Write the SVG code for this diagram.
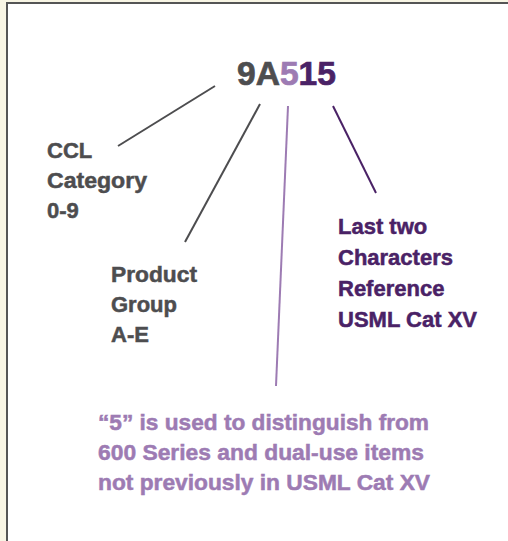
<svg xmlns="http://www.w3.org/2000/svg" width="508" height="541" viewBox="0 0 508 541">
<style>
text{font-family:"Liberation Sans",Arial,sans-serif;font-weight:bold;font-size:22px;stroke-width:0.5}
text.big{font-size:33px;stroke-width:0.7}
.g{fill:#4d4d4f;stroke:#4d4d4f}
.lp{fill:#9d7bb3;stroke:#9d7bb3}
.dp{fill:#4a2266;stroke:#4a2266}
.ln{fill:none;stroke-width:2}
</style>
<rect x="0" y="0" width="508" height="541" fill="#f8f5e4"/>
<rect x="7" y="3" width="520" height="560" fill="#ffffff" stroke="#555555" stroke-width="2"/>
<g id="code">
<text class="big" x="237" y="84.5" textLength="99" lengthAdjust="spacingAndGlyphs"><tspan class="g">9A</tspan><tspan class="lp">5</tspan><tspan class="dp">15</tspan></text>
</g>
<g id="connectors">
<line class="ln" x1="215" y1="86" x2="118" y2="146" stroke="#4d4d4f"/>
<line class="ln" x1="260" y1="104" x2="185" y2="242" stroke="#4d4d4f"/>
<line class="ln" x1="288" y1="106" x2="276" y2="386" stroke="#9d7bb3"/>
<line class="ln" x1="333" y1="106" x2="376" y2="193" stroke="#4a2266"/>
</g>
<g id="ccl">
<text class="g" x="47" y="158">CCL</text>
<text class="g" x="47" y="188" textLength="100" lengthAdjust="spacingAndGlyphs">Category</text>
<text class="g" x="47" y="218">0-9</text>
</g>
<g id="product">
<text class="g" x="111" y="282" textLength="86" lengthAdjust="spacingAndGlyphs">Product</text>
<text class="g" x="111" y="312">Group</text>
<text class="g" x="111" y="342">A-E</text>
</g>
<g id="last">
<text class="dp" x="338" y="234">Last two</text>
<text class="dp" x="338" y="265">Characters</text>
<text class="dp" x="338" y="295.5">Reference</text>
<text class="dp" x="338" y="326.5" textLength="139" lengthAdjust="spacingAndGlyphs">USML Cat XV</text>
</g>
<g id="five">
<text class="lp" x="98" y="430" textLength="331" lengthAdjust="spacingAndGlyphs">“5” is used to distinguish from</text>
<text class="lp" x="98" y="460" textLength="326" lengthAdjust="spacingAndGlyphs">600 Series and dual-use items</text>
<text class="lp" x="98" y="490" textLength="332" lengthAdjust="spacingAndGlyphs">not previously in USML Cat XV</text>
</g>
</svg>
